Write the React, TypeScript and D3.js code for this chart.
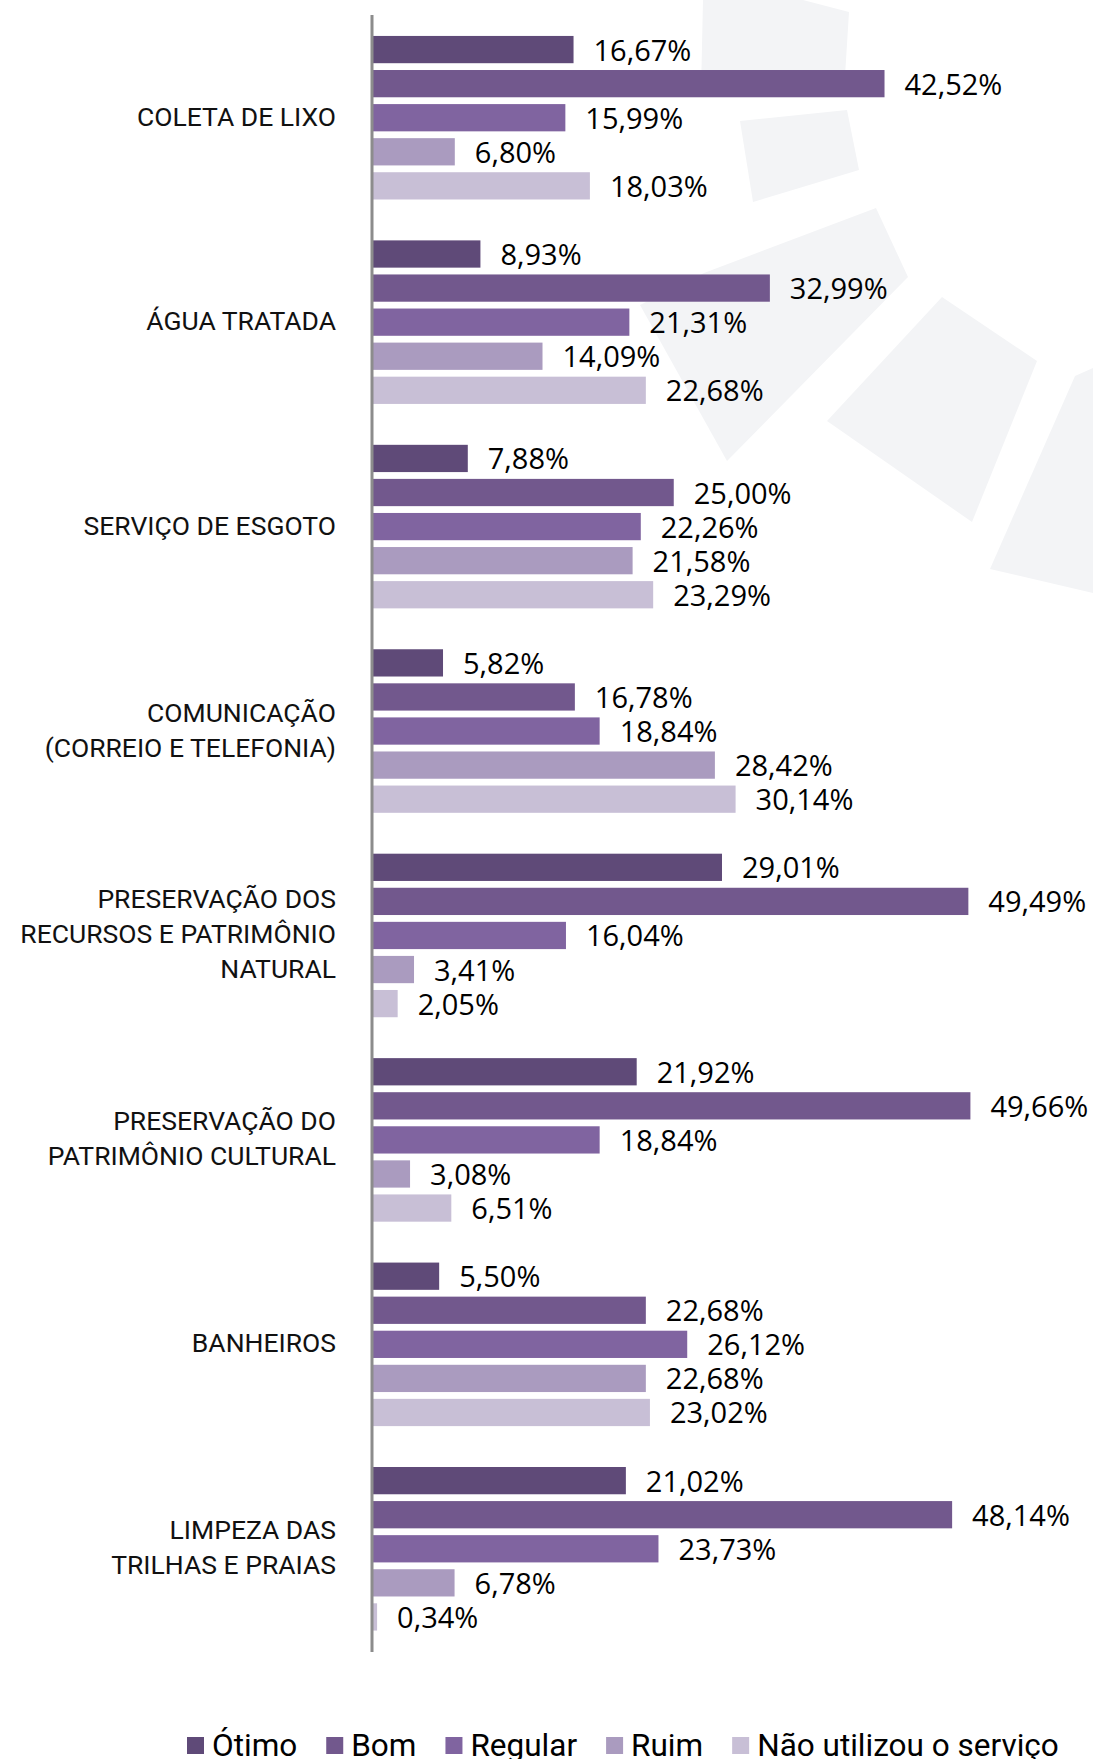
import React, { useRef, useEffect } from "react";
import * as d3 from "d3";

// categories (line breaks as in the original axis labels)
const categories = [
  "COLETA DE LIXO",
  "ÁGUA TRATADA",
  "SERVIÇO DE ESGOTO",
  "COMUNICAÇÃO\n(CORREIO E TELEFONIA)",
  "PRESERVAÇÃO DOS\nRECURSOS E PATRIMÔNIO\nNATURAL",
  "PRESERVAÇÃO DO\nPATRIMÔNIO CULTURAL",
  "BANHEIROS",
  "LIMPEZA DAS\nTRILHAS E PRAIAS",
];

const seriesNames = ["Ótimo", "Bom", "Regular", "Ruim", "Não utilizou o serviço"];

const otimo = [16.67, 8.93, 7.88, 5.82, 29.01, 21.92, 5.5, 21.02];
const bom = [42.52, 32.99, 25.0, 16.78, 49.49, 49.66, 22.68, 48.14];
const regular = [15.99, 21.31, 22.26, 18.84, 16.04, 18.84, 26.12, 23.73];
const ruim = [6.8, 14.09, 21.58, 28.42, 3.41, 3.08, 22.68, 6.78];
const naoUtilizou = [18.03, 22.68, 23.29, 30.14, 2.05, 6.51, 23.02, 0.34];

const seriesColors = ["#5f4a78", "#72588d", "#8064a0", "#aa9bbf", "#c8bfd6"];

// light grey decorative shapes behind the chart
const decoration: [number, number][][] = [
  [[703, 0], [803, 0], [849, 12], [844, 92], [701, 92]],
  [[740, 121], [847, 110], [859, 170], [753, 202]],
  [[704, 273], [876, 208], [908, 277], [727, 461], [640, 305]],
  [[942, 297], [1037, 361], [972, 522], [827, 421]],
  [[1075, 376], [1093, 368], [1093, 593], [990, 569]],
];

const W = 1093;
const H = 1759;

const App: React.FC = () => {
  const svgRef = useRef<SVGSVGElement>(null);

  useEffect(() => {
    if (!svgRef.current) return;
    const svg = d3.select(svgRef.current);
    svg.selectAll("*").remove();

    const allSeries = [otimo, bom, regular, ruim, naoUtilizou];

    // background shapes
    svg
      .append("g")
      .selectAll("path")
      .data(decoration)
      .enter()
      .append("path")
      .attr("d", (d) => d3.line()(d) + "Z")
      .attr("fill", "#f3f4f6");

    const y0 = d3
      .scaleBand<string>()
      .domain(categories)
      .range([15.5, 1651])
      .paddingInner(1 / 6)
      .paddingOuter(1 / 12);

    const y1 = d3
      .scaleBand<string>()
      .domain(seriesNames)
      .range([0, y0.bandwidth()])
      .paddingInner(0.2)
      .paddingOuter(0.1);

    const x = d3.scaleLinear().domain([0, 50]).range([373, 373 + 601.5]);

    const fmt = (v: number) => d3.format(".2f")(v).replace(".", ",") + "%";

    const groups = svg
      .append("g")
      .selectAll("g")
      .data(categories)
      .enter()
      .append("g")
      .attr("transform", (c) => `translate(0,${y0(c)})`);

    seriesNames.forEach((s, si) => {
      groups
        .append("rect")
        .attr("x", x(0))
        .attr("y", y1(s)!)
        .attr("width", (_, i) => x(allSeries[si][i]) - x(0))
        .attr("height", y1.bandwidth())
        .attr("fill", seriesColors[si]);

      groups
        .append("text")
        .attr("x", (_, i) => x(allSeries[si][i]) + 20)
        .attr("y", y1(s)! + y1.bandwidth() / 2 + 11)
        .attr("font-family", "'Open Sans', sans-serif")
        .attr("font-size", 29)
        .attr("fill", "#000")
        .text((_, i) => fmt(allSeries[si][i]));
    });

    // category labels
    const lineH = 35;
    groups.each(function (c) {
      const lines = c.split("\n");
      const cy = y0.bandwidth() / 2;
      const t = d3
        .select(this)
        .append("text")
        .attr("text-anchor", "end")
        .attr("font-family", "Roboto, sans-serif")
        .attr("font-size", 26.5)
        .attr("fill", "#111");
      lines.forEach((ln, i) => {
        t.append("tspan")
          .attr("x", 336)
          .attr("y", cy + 8 + (i - (lines.length - 1) / 2) * lineH)
          .text(ln);
      });
    });

    // axis line
    svg
      .append("line")
      .attr("x1", 372)
      .attr("x2", 372)
      .attr("y1", 15)
      .attr("y2", 1652)
      .attr("stroke", "#8c8c8c")
      .attr("stroke-width", 3);

    // legend
    const legend = svg.append("g");
    let lx = 187;
    seriesNames.forEach((s, si) => {
      legend
        .append("rect")
        .attr("x", lx)
        .attr("y", 1737)
        .attr("width", 17)
        .attr("height", 17)
        .attr("fill", seriesColors[si]);
      const t = legend
        .append("text")
        .attr("x", lx + 25)
        .attr("y", 1756)
        .attr("font-family", "Roboto, sans-serif")
        .attr("font-size", 31.5)
        .attr("fill", "#000")
        .text(s);
      const w = (t.node() as SVGTextElement).getComputedTextLength();
      lx += 25 + w + 29;
    });
  }, []);

  return (
    <svg
      ref={svgRef}
      width={W}
      height={H}
      style={{ position: "absolute", left: 0, top: 0, background: "#fff" }}
    ></svg>
  );
};

export default App;
